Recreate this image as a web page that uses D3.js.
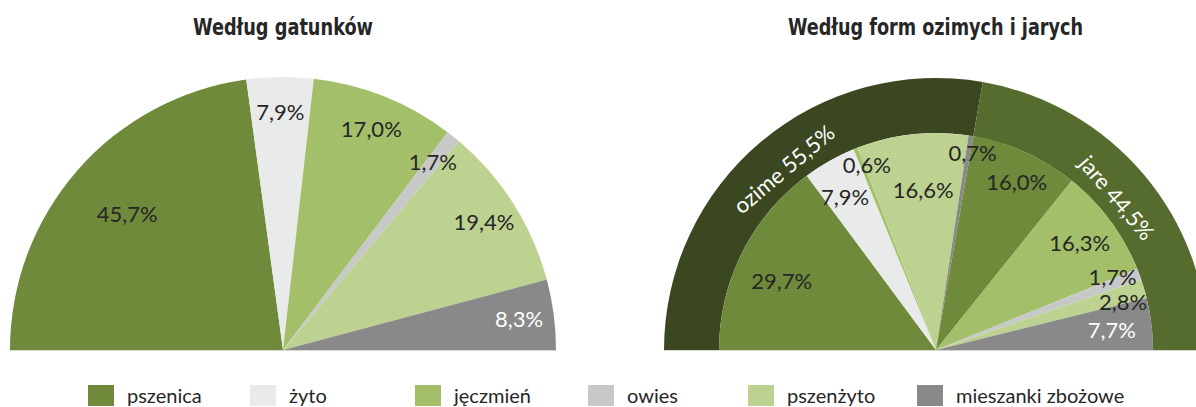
<!DOCTYPE html>
<html lang="pl">
<head>
  <meta charset="UTF-8">
  <title>Struktura zasiewów zbóż</title>
  <style>
    body{ margin:0; background:#fff; }
    svg{ display:block; }
    .lbl{ font-family: Lato, "Open Sans", sans-serif; font-size:22px; fill:#262626; }
    .title{ font-family:"DejaVu Sans Condensed", "Liberation Sans Narrow", sans-serif; font-weight:bold; font-size:23px; fill:#262626; }
    .legend text{ font-family: Lato, "Open Sans", sans-serif; font-size:20px; fill:#262626; }
  </style>
</head>
<body>
  <script src="https://cdn.jsdelivr.net/npm/d3@7"></script>
  <script>
    // dane
    const categories = ['pszenica', 'żyto', 'jęczmień', 'owies', 'pszenżyto', 'mieszanki zbożowe'];
    const colors = ['#6e8a3a', '#e9ebea', '#a3bf6a', '#c7c8c8', '#bdd290', '#898989'];
    const speciesShares = [45.7, 7.9, 17.0, 1.7, 19.4, 8.3];
    const forms = ['ozime', 'jare'];
    const formShares = [55.5, 44.5];
    const formColors = ['#3a4720', '#566b2e'];
    const ozimeShares = [29.7, 7.9, 0.6, 0, 16.6, 0.7];
    const jareShares = [16.0, 0, 16.3, 1.7, 2.8, 7.7];
    const titles = ['Według gatunków', 'Według form ozimych i jarych'];

    // układ etykiet (odsunięcie od krawędzi, korekta kąta w stopniach)
    const leftLabelInset = [66, 35, 35, 33, 35, 35];
    const rightLabelInset = [48, 39, 20, 57, 17, 31, 38, 26, 24, 40];
    const rightLabelTurn = [-2.6, -1.3, 1.2, 1.7, 1.3, 1.4, 0, -2, 2, 0.5];

    const W = 1196, H = 407;
    const pl = d3.formatLocale({decimal: ',', thousands: ' ', grouping: [3], currency: ['', ' zł']});
    const fmt = pl.format('.1f');

    const svg = d3.select('body').append('svg').attr('width', W).attr('height', H);

    const pie = d3.pie().sort(null).value(d => d.v)
      .startAngle(-Math.PI / 2).endAngle(Math.PI / 2);
    const deg = a => a * 180 / Math.PI;

    function polar(r, a){ return [r * Math.sin(a), -r * Math.cos(a)]; }

    // ---- lewy wykres ----
    const g1 = svg.append('g').attr('transform', 'translate(283,350)');
    const R1 = 273;
    const d1 = pie(speciesShares.map((v, i) => ({v, i})));
    const arc1 = d3.arc().innerRadius(0).outerRadius(R1);
    g1.selectAll('path').data(d1).join('path')
      .attr('d', arc1).attr('fill', d => colors[d.data.i]);
    g1.append('line').attr('x1', -R1).attr('x2', R1).attr('y1', 0.5).attr('y2', 0.5)
      .attr('stroke', '#d6dacd');
    g1.selectAll('text').data(d1).join('text')
      .attr('class', 'lbl')
      .attr('text-anchor', 'middle').attr('dy', '0.35em')
      .attr('transform', (d, k) => {
        const a = (d.startAngle + d.endAngle) / 2;
        return 'translate(' + polar(R1 - leftLabelInset[k], a) + ')';
      })
      .style('fill', d => d.data.i === 5 ? '#fff' : null)
      .text(d => fmt(d.data.v) + '%');

    // ---- prawy wykres ----
    const g2 = svg.append('g').attr('transform', 'translate(936,350)');
    const R2 = 217, R2o = 272;
    const inner = [];
    ozimeShares.forEach((v, i) => inner.push({v, i}));
    jareShares.forEach((v, i) => inner.push({v, i}));
    const d2 = pie(inner).filter(d => d.data.v > 0);
    const arc2 = d3.arc().innerRadius(0).outerRadius(R2);
    const ring = pie(formShares.map((v, i) => ({v, i})));
    const arcRing = d3.arc().innerRadius(R2).outerRadius(R2o);

    g2.selectAll('path.ring').data(ring).join('path').attr('class', 'ring')
      .attr('d', arcRing).attr('fill', d => formColors[d.data.i]);
    g2.selectAll('path.slice').data(d2).join('path').attr('class', 'slice')
      .attr('d', arc2).attr('fill', d => colors[d.data.i]);
    g2.append('line').attr('x1', -R2o).attr('x2', R2o).attr('y1', 0.5).attr('y2', 0.5)
      .attr('stroke', '#d6dacd');

    g2.selectAll('text.lbl').data(d2).join('text')
      .attr('class', 'lbl')
      .attr('text-anchor', 'middle').attr('dy', '0.35em')
      .attr('transform', (d, k) => {
        const a = (d.startAngle + d.endAngle) / 2 + rightLabelTurn[k] * Math.PI / 180;
        return 'translate(' + polar(R2 - rightLabelInset[k], a) + ')';
      })
      .style('fill', d => d.data.i === 5 && d.data.v > 3 ? '#fff' : null)
      .text(d => fmt(d.data.v) + '%');

    g2.selectAll('text.ringlbl').data(ring).join('text')
      .attr('class', 'lbl ringlbl')
      .attr('text-anchor', 'middle').attr('dy', '0.35em')
      .style('fill', '#fff')
      .attr('transform', d => 'rotate(' + deg((d.startAngle + d.endAngle) / 2) + ') translate(0,-236)')
      .text(d => forms[d.data.i] + ' ' + fmt(d.data.v) + '%');

    // tytuły
    svg.selectAll('text.title').data(titles).join('text')
      .attr('class', 'title').attr('text-anchor', 'middle')
      .attr('x', (d, i) => i ? 935.5 : 283).attr('y', 35)
      .attr('textLength', (d, i) => i ? 295 : 180)
      .attr('lengthAdjust', 'spacingAndGlyphs')
      .text(d => d);

    // legenda
    const legX = [88, 250, 415, 588, 748, 917];
    const leg = svg.append('g').attr('class', 'legend');
    const items = leg.selectAll('g').data(categories).join('g')
      .attr('transform', (d, i) => 'translate(' + legX[i] + ',385)');
    items.append('rect').attr('width', 26).attr('height', 21).attr('fill', (d, i) => colors[i]);
    items.append('text').attr('x', 39).attr('y', 11).attr('dy', '0.35em').text(d => d);
  </script>
</body>
</html>
